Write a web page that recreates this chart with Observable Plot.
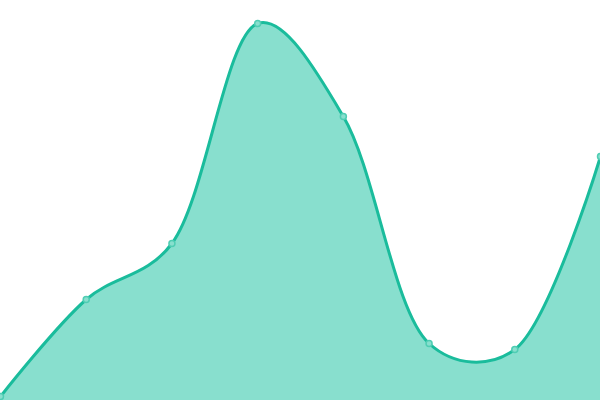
<!DOCTYPE html>
<html><head><meta charset="utf-8">
<script src="https://cdn.jsdelivr.net/npm/d3@7"></script>
<script src="https://cdn.jsdelivr.net/npm/@observablehq/plot@0.6"></script>
<style>html,body{margin:0;padding:0;background:#fff;overflow:hidden}</style>
</head><body><div id="chart"></div>
<script>
const xs = [0, 1, 2, 3, 4, 5, 6, 7];
const values = [4, 101, 157, 377, 284, 57, 51, 244];
const data = xs.map((x, i) => ({x, v: values[i]}));
const curve = d3.curveCatmullRom.alpha(0.35);
const chart = Plot.plot({
  width: 600, height: 400,
  margin: 0,
  x: {domain: [0, 7], axis: null},
  y: {domain: [0, 400], axis: null},
  marks: [
    Plot.areaY(data, {x: "x", y: "v", curve, fill: "#88dfce"}),
    Plot.lineY(data, {x: "x", y: "v", curve, stroke: "#1abc9c", strokeWidth: 3}),
    Plot.dot(data, {x: "x", y: "v", r: 3, fill: "#88dfce", stroke: "#4fcdb3", strokeWidth: 1.5})
  ]
});
document.getElementById("chart").appendChild(chart);
</script></body></html>
